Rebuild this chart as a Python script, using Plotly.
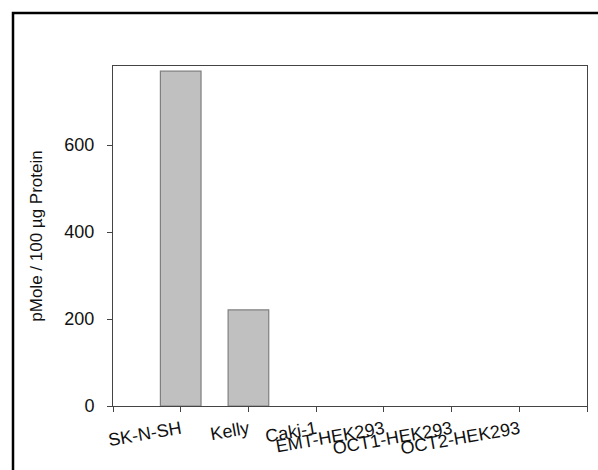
import plotly.graph_objects as go

categories = ["SK-N-SH", "Kelly", "Caki-1", "EMT-HEK293", "OCT1-HEK293", "OCT2-HEK293"]
values = [770, 221, 0, 0, 0, 0]
y_ticks = [0, 200, 400, 600]

W, H = 598, 470
L, R, T, B = 113, 11, 66, 64
pw, ph = W - L - R, H - T - B

def px_x(p):
    return (p - L) / pw

def px_y(p):
    return (H - B - p) / ph

xpos = list(range(len(categories)))

fig = go.Figure(
    go.Bar(
        x=xpos,
        y=values,
        width=0.6,
        marker=dict(
            color="#c0c0c0",
            line=dict(color="#7f7f7f", width=[1.2 if v > 0 else 0 for v in values]),
        ),
    )
)

fig.update_layout(
    width=W,
    height=H,
    margin=dict(l=L, r=R, t=T, b=B),
    paper_bgcolor="white",
    plot_bgcolor="white",
    showlegend=False,
    font=dict(family="Liberation Sans, Arial, sans-serif", size=17, color="#111"),
    xaxis=dict(
        range=[-1, len(categories)],
        tickmode="array",
        tickvals=[-1] + xpos + [len(categories)],
        ticktext=[""] + categories + [""],
        tickangle=-10,
        ticks="outside",
        ticklen=5,
        tickcolor="#444",
        showline=True,
        linecolor="#444",
        linewidth=1,
        mirror=True,
        showgrid=False,
        zeroline=False,
        tickfont=dict(size=18),
    ),
    yaxis=dict(
        range=[0, 782],
        tickvals=y_ticks,
        ticks="outside",
        ticklen=5,
        tickcolor="#444",
        showline=True,
        linecolor="#444",
        linewidth=1,
        mirror=True,
        showgrid=False,
        zeroline=False,
        ticklabelstandoff=9,
        tickfont=dict(size=18),
        title=dict(text="pMole / 100 µg Protein", font=dict(size=17), standoff=17),
    ),
    shapes=[
        dict(
            type="path",
            xref="paper",
            yref="paper",
            path=f"M {px_x(13)} {px_y(475)} L {px_x(13)} {px_y(13)} L {px_x(605)} {px_y(13)}",
            line=dict(color="black", width=2.5),
        )
    ],
)

fig.write_html(
    "out.html",
    config={"displayModeBar": False},
    post_script="document.body.style.margin='0';",
)
